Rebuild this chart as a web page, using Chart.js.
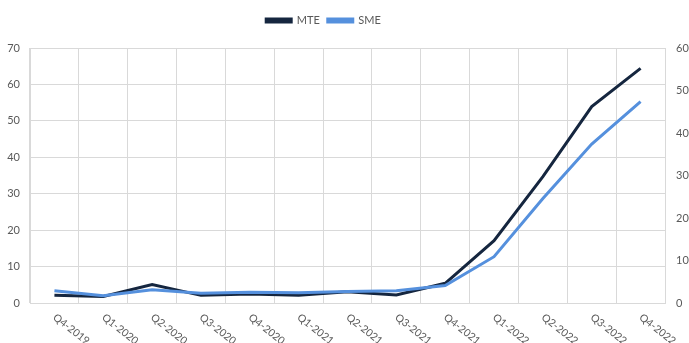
<!DOCTYPE html>
<html>
<head>
<meta charset="utf-8">
<script src="https://cdn.jsdelivr.net/npm/chart.js@4/dist/chart.umd.min.js"></script>
<style>
html,body{margin:0;padding:0;background:#fff;}
#wrap{width:689px;height:343px;position:relative;}
</style>
</head>
<body>
<div id="wrap"><canvas id="c" width="689" height="343"></canvas></div>
<script>
const categories = ["Q4-2019","Q1-2020","Q2-2020","Q3-2020","Q4-2020","Q1-2021","Q2-2021","Q3-2021","Q4-2021","Q1-2022","Q2-2022","Q3-2022","Q4-2022"];
const mteValues = [2.1, 1.8, 5.1, 2.1, 2.5, 2.1, 3.1, 2.2, 5.4, 17.1, 34.7, 53.9, 64.4];
const smeValues = [2.9, 1.7, 3.1, 2.3, 2.5, 2.4, 2.7, 2.9, 4.1, 10.9, 24.6, 37.4, 47.4];
const leftTicks = [0, 10, 20, 30, 40, 50, 60, 70];
const rightTicks = [0, 10, 20, 30, 40, 50, 60];

const FONT = "Lato, 'Open Sans', sans-serif";
const TXT = "#595959";
const GRID = "#D9D9D9";

const xLabelPlugin = {
  id: 'xLabels',
  afterDraw(chart) {
    const sx = chart.scales.x;
    const ctx = chart.ctx;
    ctx.save();
    ctx.font = "10.5px " + FONT;
    ctx.fillStyle = TXT;
    ctx.textAlign = 'left';
    ctx.textBaseline = 'middle';
    categories.forEach((lab, i) => {
      const x = sx.getPixelForValue(i);
      ctx.save();
      ctx.translate(x, sx.top + 13);
      ctx.rotate(38 * Math.PI / 180);
      ctx.fillText(lab, 0, 0);
      ctx.restore();
    });
    ctx.restore();
  }
};

const legendAdjust = {
  id: 'legendAdjust',
  beforeLayout(chart) {
    const lg = chart.legend;
    if (lg && !lg._patched) {
      const f = lg.fit.bind(lg);
      lg.fit = function () { f(); this.height = 48; };
      lg._patched = true;
    }
  },
  afterLayout(chart) {
    const lg = chart.legend;
    if (!lg) return;
    const dx = -21, dy = 7;
    lg.left += dx; lg.right += dx;
    lg.top += dy; lg.bottom += dy;
  }
};

new Chart(document.getElementById('c'), {
  type: 'line',
  data: {
    labels: categories,
    datasets: [
      {label: 'MTE', data: mteValues, yAxisID: 'y', borderColor: '#15263F', backgroundColor: '#15263F', borderWidth: 3, pointRadius: 0, tension: 0, order: 2},
      {label: 'SME', data: smeValues, yAxisID: 'y1', borderColor: '#5590DD', backgroundColor: '#5590DD', borderWidth: 3, pointRadius: 0, tension: 0, order: 1}
    ]
  },
  options: {
    responsive: false,
    animation: false,
    devicePixelRatio: 1,
    layout: {padding: {top: 0, left: 0, right: 0, bottom: 0}},
    plugins: {
      legend: {
        position: 'top',
        labels: {
          boxWidth: 25, boxHeight: 3, padding: 8,
          color: TXT, font: {size: 11, family: FONT},
          sort: (a, b) => a.datasetIndex - b.datasetIndex
        }
      },
      tooltip: {enabled: false}
    },
    scales: {
      x: {
        offset: true,
        grid: {offset: true, color: GRID, drawTicks: false, lineWidth: 1},
        border: {color: GRID},
        ticks: {display: false},
        afterFit: s => { s.height = 40; }
      },
      y: {
        position: 'left', min: 0, max: 70,
        afterBuildTicks: s => { s.ticks = leftTicks.map(v => ({value: v})); },
        grid: {color: GRID, drawTicks: false},
        border: {color: GRID},
        ticks: {color: TXT, font: {size: 11, family: FONT}, padding: 10},
        afterFit: s => { s.width = 30; }
      },
      y1: {
        position: 'right', min: 0, max: 60,
        afterBuildTicks: s => { s.ticks = rightTicks.map(v => ({value: v})); },
        grid: {display: false, drawTicks: false},
        border: {display: false},
        ticks: {color: TXT, font: {size: 11, family: FONT}, padding: 11},
        afterFit: s => { s.width = 24; }
      }
    }
  },
  plugins: [xLabelPlugin, legendAdjust]
});
</script>
</body>
</html>
